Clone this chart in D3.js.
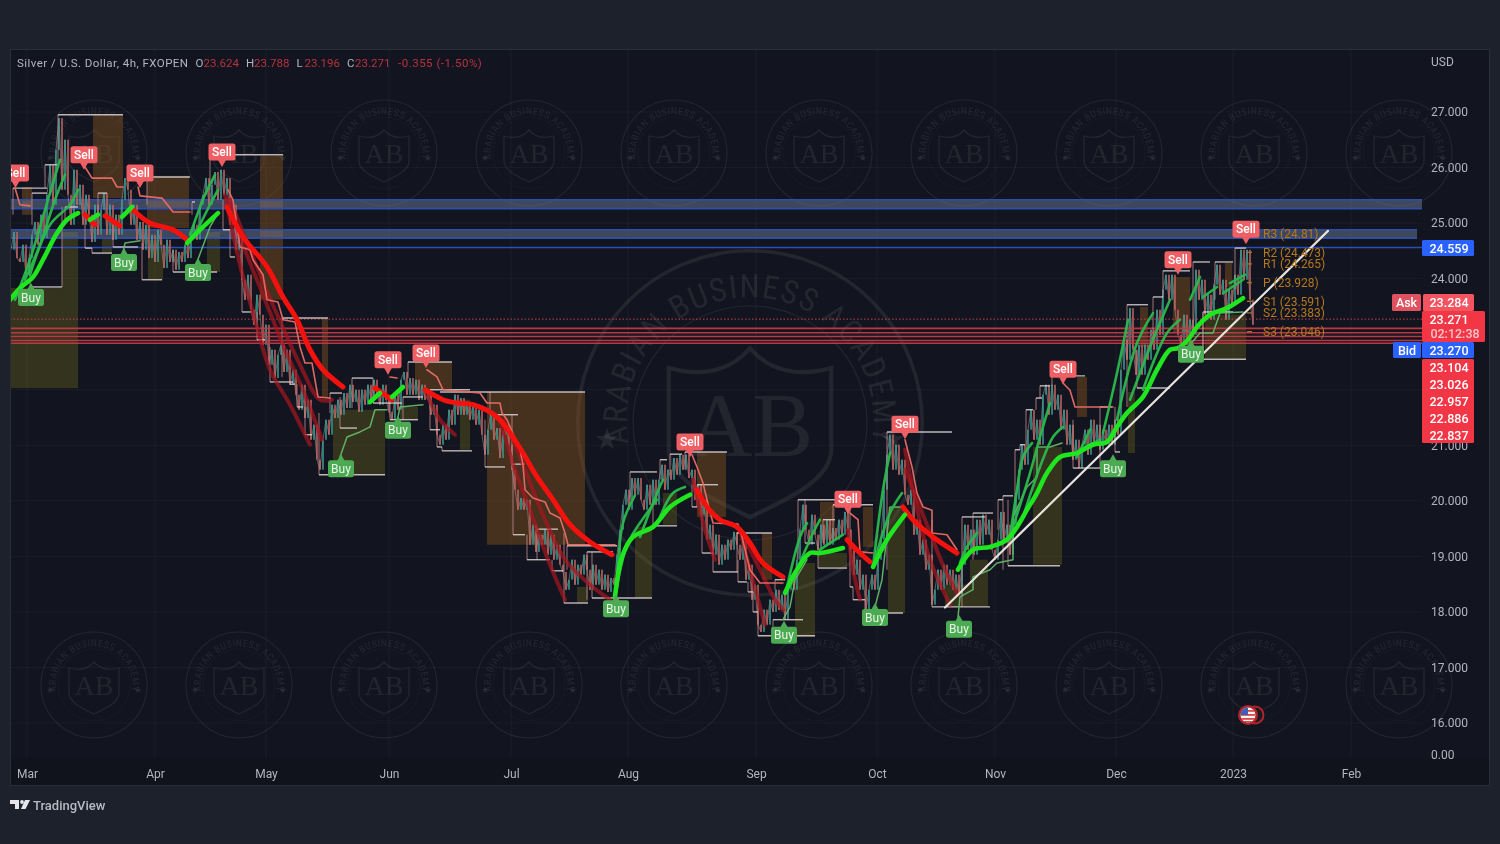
<!DOCTYPE html>
<html><head><meta charset="utf-8">
<script src="https://d3js.org/d3.v7.min.js"></script>
<style>
html,body{margin:0;padding:0;background:#1e222d;overflow:hidden}
svg{display:block;filter:blur(.6px)}
text{font-family:Roboto,"Noto Sans",sans-serif}
</style></head><body>
<svg id="c" width="1500" height="844"></svg>
<script>
// ---- axis content
const priceTicks=[27,26,25,24,23,22,21,20,19,18,17,16];
const priceTickLabels=[27,26,25,24,21,20,19,18,17,16];
const monthLabels=["Mar","Apr","May","Jun","Jul","Aug","Sep","Oct","Nov","Dec","2023","Feb"];
const monthUnits=[17,145,256,379,501,618,746,867,985,1106,1223,1341];
// ---- price closes, one every 3 chart units starting at unit 1
const closes=[24.52,24.84,24.37,24.30,24.61,24.07,24.37,24.79,25.02,24.61,25.15,24.73,25.51,26.05,25.33,26.32,26.89,25.60,26.50,25.51,24.97,25.96,25.33,25.69,24.97,25.51,25.15,24.66,25.33,24.79,25.24,25.54,24.79,25.33,24.70,25.15,24.79,25.42,25.81,25.60,24.97,25.33,24.70,25.02,24.52,24.97,24.37,24.79,24.30,24.88,24.61,24.19,24.70,24.30,24.52,24.16,24.48,24.30,24.61,24.37,24.73,24.97,24.70,25.33,25.51,25.81,25.33,25.69,25.92,25.42,25.96,25.51,25.81,24.97,25.33,24.52,24.79,23.98,23.62,24.07,23.44,23.17,23.71,23.35,22.81,23.17,22.45,22.72,22.21,22.63,22.81,22.32,22.72,22.09,22.36,21.91,21.64,22.09,21.49,21.82,21.10,21.37,20.74,20.56,21.10,21.46,21.19,21.73,21.49,21.82,21.55,21.94,21.67,22.09,21.78,22.00,21.60,22.00,21.73,22.09,21.82,22.18,21.91,21.73,22.09,21.82,21.60,21.46,21.91,21.64,22.18,22.32,21.91,22.21,21.91,22.18,21.82,22.09,21.82,21.91,21.55,21.73,21.19,21.01,21.37,21.10,21.64,21.37,21.91,21.55,21.85,21.55,21.78,21.46,21.73,21.37,21.64,21.19,20.83,21.28,21.60,21.10,21.31,20.77,21.19,21.37,21.01,20.56,20.20,19.84,20.05,19.84,20.02,19.21,19.57,19.08,19.39,19.21,19.48,19.03,19.39,18.94,19.21,18.85,18.72,18.40,18.58,18.94,18.49,18.85,18.67,19.03,18.76,18.40,18.85,18.49,18.76,18.40,18.67,18.36,18.61,18.49,19.03,19.48,19.93,20.20,19.84,20.41,20.11,20.41,20.02,19.84,20.29,19.93,20.38,19.93,20.38,20.65,20.20,20.56,20.38,20.77,20.47,20.83,20.56,20.83,20.41,20.56,20.02,20.29,19.75,20.02,19.30,19.57,19.03,19.39,18.85,19.21,18.94,19.30,19.12,19.44,19.21,18.94,19.30,18.58,18.85,18.22,18.49,17.77,17.64,18.04,17.77,18.22,18.00,18.40,18.04,18.31,17.86,18.40,18.67,18.40,18.94,19.48,19.93,19.48,19.21,19.75,19.39,19.12,19.57,19.21,19.66,19.21,19.51,19.30,19.66,19.39,19.80,19.48,19.12,18.67,18.94,18.40,18.67,18.04,18.40,18.67,18.40,18.94,19.30,20.20,20.83,21.19,20.56,21.01,20.47,20.74,20.11,19.93,20.20,19.39,19.66,19.03,19.30,18.76,19.03,18.13,18.40,18.76,18.40,18.85,18.49,18.76,18.40,18.67,18.31,18.85,19.57,19.12,19.48,19.03,19.66,19.21,19.75,19.39,19.66,19.12,18.94,19.30,19.80,19.30,19.57,19.03,19.57,20.02,20.56,21.01,20.65,21.28,21.64,21.10,21.46,21.01,21.91,22.09,21.55,22.09,21.64,21.91,21.28,21.64,21.01,21.37,20.74,21.10,20.59,21.01,21.28,20.83,21.46,21.01,21.37,20.92,21.28,21.01,21.37,21.01,21.46,21.19,22.36,22.90,22.54,23.47,22.72,22.27,22.81,22.27,22.81,22.54,23.08,22.72,23.44,22.99,23.80,24.07,23.62,24.07,23.44,22.99,22.81,23.35,22.81,23.26,22.99,24.16,23.62,23.98,23.35,23.71,23.26,23.89,24.25,23.71,23.98,23.26,23.80,23.53,24.07,23.71,24.52,23.98,24.52,23.62,23.17];
// ---- order-block boxes: start, end, top price, bottom price
const supplyBoxes=[[12,22,25.65,25.15],[83,113,26.95,25.45],[137,179,25.85,24.91],[250,273,26.21,23.62],[312,318,23.29,21.87],[405,442,22.50,22.00],[477,575,21.96,19.21],[687,716,20.88,19.71],[752,762,19.42,18.58],[810,825,19.98,19.30],[853,863,19.89,19.17],[1067,1077,22.23,21.51],[1130,1138,23.49,22.77],[1163,1180,24.03,23.02],[1215,1222,24.28,23.85]];
const demandBoxes=[[1,68,23.83,22.03],[52,68,24.84,23.83],[92,102,24.73,24.46],[138,153,24.70,23.98],[197,210,24.84,24.12],[323,375,21.64,20.47],[390,408,21.69,21.46],[450,460,21.82,20.92],[567,578,18.45,18.16],[625,642,19.53,18.25],[653,667,20.14,19.57],[785,805,18.88,17.55],[808,837,19.06,18.81],[878,895,19.89,17.98],[960,978,18.94,18.09],[935,960,18.49,18.09],[1023,1052,20.97,18.85],[1118,1125,21.96,20.86],[1195,1236,23.35,22.56]];
// ---- support / resistance steps: start, end, level, price the riser starts from
const levelSteps=[[3,37,25.63,25.15],[35,47,26.05,25.63],[48,113,26.95,26.05],[22,37,25.54,24.97],[20,52,23.85,24.43],[52,52,23.85,25.29],[55,68,25.29,24.97],[75,82,24.55,25.15],[82,102,24.46,24.55],[88,97,25.54,25.15],[103,128,24.57,24.97],[132,152,23.98,24.64],[137,180,25.83,25.33],[163,207,24.12,24.52],[182,185,25.38,25.15],[200,273,26.23,25.60],[213,220,24.88,25.42],[220,225,24.39,24.88],[232,242,23.40,24.16],[247,255,22.90,23.40],[260,283,22.14,22.77],[272,318,23.29,22.23],[280,285,22.10,22.14],[287,293,21.69,22.10],[295,302,21.19,21.69],[309,375,20.47,21.58],[320,332,21.94,21.58],[330,347,21.31,21.87],[342,363,22.21,21.67],[363,392,21.76,22.21],[380,408,21.46,21.91],[398,442,22.50,22.21],[393,413,21.87,21.46],[420,460,22.00,21.73],[420,430,21.28,21.73],[427,432,20.97,21.28],[432,462,20.90,20.97],[430,575,21.96,21.96],[475,495,20.61,21.46],[480,508,21.55,21.96],[503,515,19.39,20.65],[502,515,20.66,21.55],[517,540,18.94,19.39],[527,548,19.49,18.94],[542,553,18.74,18.94],[554,578,18.16,19.42],[557,607,19.19,18.76],[577,603,19.08,18.22],[582,642,18.25,19.08],[620,647,20.52,20.02],[650,657,20.74,20.38],[643,667,19.55,20.02],[660,672,20.84,20.47],[675,717,20.88,20.56],[682,687,19.89,20.29],[687,708,20.29,19.89],[692,703,19.06,19.84],[703,728,18.72,19.06],[727,762,19.42,18.72],[728,737,18.54,18.94],[738,743,18.36,18.54],[743,748,18.00,18.36],[748,805,17.57,18.00],[763,793,17.86,17.57],[765,775,18.58,18.40],[788,837,20.02,18.94],[823,863,19.93,19.30],[795,805,19.24,20.02],[813,825,19.66,19.24],[808,837,18.79,19.24],[840,843,18.45,19.93],[843,855,18.22,18.45],[855,893,17.98,18.22],[877,942,21.24,18.76],[922,980,18.09,19.66],[952,975,19.71,18.09],[963,983,19.78,18.94],[988,993,20.02,19.48],[993,1003,20.09,18.76],[998,1050,18.83,20.02],[1005,1010,20.92,20.02],[1010,1015,21.01,20.92],[1016,1023,21.64,21.01],[1026,1032,21.85,21.64],[1030,1040,22.07,21.85],[1042,1075,22.25,22.07],[1063,1090,20.59,21.46],[1090,1102,21.69,20.59],[1105,1110,20.88,21.69],[1117,1138,23.53,21.69],[1127,1160,22.03,22.72],[1143,1153,23.67,22.89],[1153,1180,24.14,23.67],[1183,1200,24.30,23.09],[1205,1223,24.30,23.62],[1225,1236,24.55,23.81],[1193,1236,22.55,23.40],[1193,1223,23.40,22.55]];
// ---- trailing stops after Sell / Buy signals
const sellStops=[[[5,25.63],[10,25.33],[20,25.31]],[[75,26.01],[82,25.81],[102,25.81],[107,25.65],[113,25.65]],[[128,25.65],[130,25.49],[152,25.45],[160,25.27],[163,25.20],[180,25.20]],[[218,25.60],[223,25.42],[230,24.57],[240,24.52],[243,24.34],[253,24.07],[257,23.62],[268,23.58],[273,23.26],[285,23.22],[290,22.77],[295,22.48],[302,22.48],[308,21.87],[320,21.85]],[[380,22.23],[387,22.21]],[[417,22.36],[427,22.23],[433,22.00],[470,21.94],[477,21.76],[490,21.76],[492,21.58],[497,21.46],[510,20.92],[513,20.65],[515,20.20],[523,20.05],[535,19.98],[540,19.78],[550,19.69],[555,19.42],[558,19.21],[605,19.21]],[[682,20.83],[687,20.61],[693,20.32],[697,20.02],[703,19.60],[728,19.58],[732,19.35],[740,18.76],[750,18.52],[773,18.52]],[[840,19.78],[848,19.66],[850,19.08],[863,19.06]],[[895,21.10],[902,20.61],[907,20.14],[913,19.89],[922,19.83],[922,19.42],[937,19.39],[947,19.12]],[[1053,22.12],[1060,21.99],[1065,21.69],[1103,21.69]]];
const buyStops=[[[330,20.79],[337,21.15],[350,21.24],[360,21.33],[365,21.64],[377,21.64]],[[388,21.51],[390,21.69],[413,21.73]],[[113,24.48],[115,24.64],[130,24.68]],[[187,24.30],[200,24.93],[208,25.18]],[[773,17.86],[780,18.09],[785,18.58],[797,18.94]],[[865,18.09],[872,18.58],[880,19.89],[893,19.89]],[[948,17.91],[950,18.27],[963,18.40],[963,18.63],[980,18.76],[987,18.88],[1003,18.94],[1003,19.71],[1017,20.25],[1027,20.43],[1027,20.97],[1040,20.97],[1052,21.04]],[[1180,22.81],[1190,23.02],[1203,23.02],[1210,23.38],[1233,23.40]]];
// ---- moving averages
const redMa=[[[217,25.29],[233,24.75],[257,24.21],[273,23.67],[287,23.26],[300,22.72],[313,22.36],[333,22.05]],[[365,22.03],[382,21.82]],[[415,22.00],[433,21.82],[447,21.76],[463,21.73],[487,21.51],[500,21.22],[513,20.86],[527,20.43],[543,20.02],[560,19.57],[580,19.26],[602,19.03]],[[687,20.20],[697,19.89],[710,19.66],[727,19.53],[740,19.24],[753,18.88],[773,18.63]],[[837,19.30],[850,19.06],[860,18.90]],[[893,19.89],[903,19.66],[923,19.35],[947,19.06]],[[75,25.15],[85,24.97]],[[95,25.13],[110,24.95]],[[123,25.24],[140,25.00],[163,24.88],[177,24.70]]];
const redFan=[[[215,25.51],[230,24.25],[245,23.26],[260,22.36],[280,21.73],[300,21.01]],[[218,25.42],[235,24.52],[255,23.62],[275,22.72],[295,21.91],[312,21.10]],[[220,25.42],[240,24.52],[265,23.44],[290,22.45],[310,21.82],[322,21.82]],[[415,22.00],[430,21.46],[445,21.19]],[[490,21.46],[505,20.56],[520,19.84],[538,18.94],[555,18.22]],[[495,21.46],[515,20.56],[535,19.66],[555,18.94],[580,18.49],[600,18.22]],[[683,20.38],[695,19.48],[705,18.94]],[[730,19.48],[740,18.76],[755,17.77]],[[730,19.48],[750,18.76],[765,18.22],[773,18.04]],[[838,19.48],[843,18.76],[850,18.22]],[[895,20.92],[905,20.02],[920,18.94],[940,18.13]],[[895,20.56],[915,19.66],[935,18.76],[948,18.31]]];
const greenMa=[[[0,23.62],[10,23.83],[23,24.03],[33,24.34],[47,24.82],[57,25.06],[68,25.18]],[[80,25.06],[88,25.15]],[[112,25.11],[122,25.29]],[[177,24.64],[190,24.88],[208,25.18]],[[360,21.78],[370,21.94]],[[382,21.87],[393,22.05]],[[605,18.27],[612,18.99],[623,19.35],[643,19.53],[660,19.89],[680,20.11]],[[775,18.34],[787,18.76],[800,19.06],[810,19.06],[833,19.15]],[[863,18.81],[877,19.30],[895,19.75]],[[948,18.76],[963,19.12],[980,19.17],[997,19.30],[1007,19.53],[1017,19.84],[1027,20.14],[1037,20.50],[1050,20.79],[1067,20.86],[1083,21.01],[1097,21.06],[1107,21.33],[1117,21.58],[1133,21.87],[1147,22.36],[1160,22.72],[1168,22.75],[1178,22.90],[1187,23.13],[1200,23.35],[1217,23.47],[1233,23.65]]];
const greenFan=[[[5,23.62],[20,24.34],[35,25.24],[50,26.14]],[[15,23.98],[30,24.61],[45,25.42],[55,25.87]],[[20,24.07],[40,24.97],[60,25.33],[68,25.60]],[[180,24.79],[195,25.51],[205,25.87]],[[185,24.79],[200,25.33],[208,25.60]],[[607,18.45],[613,19.60],[625,20.10]],[[607,18.45],[618,19.24],[637,19.78],[647,20.02]],[[630,19.35],[647,20.14],[653,20.38]],[[650,19.71],[663,20.14],[675,20.25]],[[777,18.45],[790,19.35],[797,19.60]],[[787,18.76],[803,19.42],[810,19.66]],[[810,19.12],[833,19.39]],[[863,18.81],[873,20.20],[880,20.86]],[[865,18.94],[880,19.78],[892,20.14]],[[950,18.88],[957,19.17],[967,19.42]],[[1000,19.35],[1007,20.20],[1013,20.79],[1022,21.04]],[[1003,19.53],[1020,20.50],[1030,21.15],[1040,21.76]],[[1013,19.71],[1030,20.61],[1043,21.15],[1053,21.33]],[[1067,20.79],[1080,21.28]],[[1070,20.92],[1090,21.10]],[[1093,21.22],[1107,22.30],[1118,23.26]],[[1107,21.46],[1127,22.84],[1143,23.38]],[[1120,21.82],[1140,22.77],[1160,23.62]],[[1133,22.00],[1157,23.02],[1170,23.26]],[[1180,23.62],[1190,24.03]],[[1193,23.67],[1207,23.85]],[[1213,23.74],[1233,23.98]],[[1220,23.92],[1235,24.07]]];
const trendLine=[[935,18.08],[1318,24.86]];
// ---- signals: chart unit, tip price
const sellSignals=[[5.5,25.63],[74,25.96],[130,25.63],[212,26.01],[378,22.27],[416,22.39],[680,20.79],[838,19.76],[895,21.11],[1053,22.10],[1168,24.07],[1236,24.62]];
const buySignals=[[21,23.92],[114,24.55],[188,24.37],[331,20.84],[388,21.53],[606,18.32],[774,17.84],[865,18.16],[949,17.95],[1103,20.84],[1181,22.90]];
// ---- horizontal levels
const blueBands=[[25.42,25.26,1412],[24.88,24.73,1407]];
const lastBlueLevel=24.559;
const redLevels=[23.104,23.026,22.957,22.886,22.837];
const askPrice=23.284,bidPrice=23.270,lastPrice=23.271,countdown="02:12:38";
const pivots=[["R3",24.81,"24.81"],["R2",24.473,"24.473"],["R1",24.265,"24.265"],["P",23.928,"23.928"],["S1",23.591,"23.591"],["S2",23.383,"23.383"],["S3",23.046,"23.046"]];
// ---- legend
const legendTitle="Silver / U.S. Dollar, 4h, FXOPEN";
const legendOhlc=[["O","23.624"],["H","23.788"],["L","23.196"],["C","23.271"]];
const legendChange="-0.355 (-1.50%)";
// ---- watermark centres
const wmColumns=[94,239,384,529,674,819,964,1109,1254,1399];
const wmRows=[153,685];

const svg=d3.select("#c");
const x=d3.scaleLinear().domain([0,1412]).range([10,1422]);
const y=d3.scaleLinear().domain([27,16]).range([112,723]);
const line=d3.line().x(d=>x(d[0])).y(d=>y(d[1]));
const smooth=d3.line().x(d=>x(d[0])).y(d=>y(d[1])).curve(d3.curveCatmullRom);

// background
svg.append("rect").attr("width",1500).attr("height",844).attr("fill","#1d212c");
svg.append("rect").attr("x",10.5).attr("y",49.5).attr("width",1479).attr("height",736).attr("fill","#12151f").attr("stroke","#2a2e39");
svg.append("rect").attr("x",11).attr("y",758).attr("width",1478).attr("height",27).attr("fill","#10131c");
const defs=svg.append("defs");
defs.append("clipPath").attr("id","plot").append("rect").attr("x",11).attr("y",50).attr("width",1411).attr("height",708);
defs.append("clipPath").attr("id","flag").append("circle").attr("r",7.5);

// watermark
function watermark(g,id){
  const col="#ffffff";
  g.attr("fill","none").attr("stroke",col).attr("stroke-opacity",.075);
  g.append("circle").attr("r",53).attr("stroke-width",1.1);
  g.append("circle").attr("r",36).attr("stroke-width",.35);
  g.append("path").attr("stroke-width",1.3).attr("d","M-25,-17 C-15,-14 -6,-16 0,-23 C6,-16 15,-14 25,-17 L25,8 C25,18 10,24 0,29 C-10,24 -25,18 -25,8 Z");
  g.append("text").attr("text-anchor","middle").attr("y",10).attr("stroke","none").attr("fill",col).attr("fill-opacity",.07)
    .style("font-family","'Liberation Serif',serif").style("font-size","28px").text("AB");
  g.append("path").attr("id",id).attr("d","M-37,8 A38,38 0 1 1 37,8").attr("stroke","none");
  g.append("text").attr("stroke","none").attr("fill",col).attr("fill-opacity",.075)
    .style("font-family","'Liberation Sans Narrow','Roboto Condensed',Roboto,sans-serif").style("font-size","10px").style("letter-spacing",".45px")
    .append("textPath").attr("href","#"+id).attr("startOffset","50%").attr("text-anchor","middle").text("ARABIAN BUSINESS ACADEMY");
  [-44,44].forEach(dx=>g.append("text").attr("x",dx).attr("y",8).attr("text-anchor","middle").attr("stroke","none").attr("fill",col).attr("fill-opacity",.08).style("font-size","9px").text("★"));
}
const wm=svg.append("g");
let wmi=0;
wmRows.forEach(r=>wmColumns.forEach(c=>{watermark(wm.append("g").attr("transform",`translate(${c},${r})`),"wm"+(wmi++));}));
watermark(wm.append("g").attr("transform","translate(750,423) scale(3.25)"),"wmBig");

const plot=svg.append("g").attr("clip-path","url(#plot)");
// grid
plot.append("g").selectAll("line").data(priceTicks).join("line").attr("x1",10).attr("x2",1422).attr("y1",d=>y(d)).attr("y2",d=>y(d)).attr("stroke","#fff").attr("stroke-opacity",.035);
plot.append("g").selectAll("line").data(monthUnits).join("line").attr("x1",d=>x(d)).attr("x2",d=>x(d)).attr("y1",50).attr("y2",758).attr("stroke","#fff").attr("stroke-opacity",.04);

// boxes
const box=(data,fill)=>plot.append("g").selectAll("rect").data(data).join("rect").attr("x",d=>x(d[0])).attr("width",d=>x(d[1])-x(d[0])).attr("y",d=>y(d[2])).attr("height",d=>y(d[3])-y(d[2])).attr("fill",fill);
box(supplyBoxes,"rgba(150,90,30,.4)");
box(demandBoxes,"rgba(120,110,30,.34)");

// blue bands
blueBands.forEach(b=>{
  const g=plot.append("g");
  g.append("rect").attr("x",x(0)).attr("width",x(b[2])-x(0)).attr("y",y(b[0])).attr("height",y(b[1])-y(b[0])).attr("fill","rgba(125,140,175,.42)");
  [b[0],b[1]].forEach(p=>g.append("line").attr("x1",x(0)).attr("x2",x(b[2])).attr("y1",y(p)).attr("y2",y(p)).attr("stroke","#2f4ea8").attr("stroke-width",1.6));
});
plot.append("line").attr("x1",x(0)).attr("x2",x(1412)).attr("y1",y(lastBlueLevel)).attr("y2",y(lastBlueLevel)).attr("stroke","#2a4fb8").attr("stroke-width",1.5);

// candles
const cx=i=>x(1+3*i);
plot.append("path").attr("d",d3.line().x((d,i)=>cx(i)).y(d=>y(d))(closes)).attr("fill","none").attr("stroke","#a89a9a").attr("stroke-opacity",.55).attr("stroke-width",1);
plot.append("g").selectAll("rect").data(closes.slice(1)).join("rect")
  .attr("x",(d,i)=>cx(i+1)-.9).attr("width",1.8)
  .attr("y",(d,i)=>y(Math.max(d,closes[i]))).attr("height",(d,i)=>Math.max(1,Math.abs(y(d)-y(closes[i]))))
  .attr("fill",(d,i)=>d>=closes[i]?"#3a9a92":"#c0645f").attr("fill-opacity",.85);

// red levels over the candles
plot.append("line").attr("x1",x(0)).attr("x2",x(1412)).attr("y1",y(lastPrice)).attr("y2",y(lastPrice)).attr("stroke","#c8404c").attr("stroke-width",1).attr("stroke-dasharray","1.5 2");
plot.append("g").selectAll("line").data(redLevels).join("line").attr("x1",x(0)).attr("x2",x(1412)).attr("y1",d=>y(d)).attr("y2",d=>y(d)).attr("stroke","#c23a46").attr("stroke-width",1.6).attr("stroke-opacity",.95);

// steps: risers dimmer and pinker than the level itself
const stepG=plot.append("g").attr("fill","none");
stepG.selectAll(".rise").data(levelSteps).join("line").attr("class","rise").attr("x1",d=>x(d[0])).attr("x2",d=>x(d[0])).attr("y1",d=>y(d[3])).attr("y2",d=>y(d[2])).attr("stroke","#c88f8f").attr("stroke-opacity",.6).attr("stroke-width",1.3);
stepG.selectAll(".flat").data(levelSteps).join("line").attr("class","flat").attr("x1",d=>x(d[0])).attr("x2",d=>x(d[1])).attr("y1",d=>y(d[2])).attr("y2",d=>y(d[2])).attr("stroke","#dcd4d4").attr("stroke-opacity",.85).attr("stroke-width",1.4);

const lines=(data,gen,col,w,op)=>plot.append("g").selectAll("path").data(data).join("path").attr("d",gen).attr("fill","none").attr("stroke",col).attr("stroke-width",w).attr("stroke-opacity",op).attr("stroke-linecap","round").attr("stroke-linejoin","round");
lines(buyStops,line,"#63b668",1.5,.95);
lines(redFan,smooth,"#a8161f",4,.7);
lines(sellStops,line,"#ea6e66",1.6,.95);
lines(greenFan,smooth,"#2ab84c",2.6,.95);
lines(redMa,smooth,"#f5120e",5,1);
lines(greenMa,smooth,"#1fe61f",4.6,1);
lines([trendLine],line,"#e6e2dc",2.2,1);

// pivot labels
const piv=plot.append("g");
piv.selectAll("line").data(pivots).join("line").attr("x1",x(1237)).attr("x2",x(1242)).attr("y1",d=>y(d[1])).attr("y2",d=>y(d[1])).attr("stroke","#a8741c").attr("stroke-width",1.3);
piv.selectAll("text").data(pivots).join("text").attr("x",1263).attr("y",d=>y(d[1])).attr("dy",".36em").attr("fill","#b5781e").style("font-size","12px").text(d=>`${d[0]} (${d[2]})`);

// signals
const sigSell=plot.append("g").selectAll("g").data(sellSignals).join("g").attr("transform",d=>`translate(${x(d[0])},${y(d[1])})`);
sigSell.append("path").attr("d","M-4,-7L0,0L4,-7Z").attr("fill","#ef5f64");
sigSell.append("rect").attr("x",-13.5).attr("y",-23.5).attr("width",27).attr("height",17).attr("rx",2.5).attr("fill","#ef5f64");
sigSell.append("text").attr("y",-11).attr("text-anchor","middle").attr("fill","#fff").style("font-size","12px").style("font-weight",500).text("Sell");
const sigBuy=plot.append("g").selectAll("g").data(buySignals).join("g").attr("transform",d=>`translate(${x(d[0])},${y(d[1])})`);
sigBuy.append("path").attr("d","M-4,7L0,0L4,7Z").attr("fill","#4cab52");
sigBuy.append("rect").attr("x",-13).attr("y",6).attr("width",26).attr("height",17).attr("rx",2.5).attr("fill","#4cab52");
sigBuy.append("text").attr("y",18.5).attr("text-anchor","middle").attr("fill","#e8f5e8").style("font-size","12px").text("Buy");

// flag
const fg=svg.append("g").attr("transform","translate(1248,715)");
fg.append("circle").attr("cx",7).attr("r",8.5).attr("fill","#1a1a22").attr("stroke","#b0242c").attr("stroke-width",2);
fg.append("circle").attr("r",10).attr("fill","#b0242c");
const ff=fg.append("g").attr("clip-path","url(#flag)");
ff.append("rect").attr("x",-8).attr("y",-8).attr("width",16).attr("height",16).attr("fill","#f2f2f2");
[-5,-1,3,6].forEach(v=>ff.append("rect").attr("x",-8).attr("y",v).attr("width",16).attr("height",1.8).attr("fill","#d84848"));
ff.append("rect").attr("x",-8).attr("y",-8).attr("width",8).attr("height",8).attr("fill","#3a62b8");

// axes
const yAxis=svg.append("g").attr("transform","translate(1431,0)").call(d3.axisRight(y).tickValues(priceTickLabels).tickSize(0).tickPadding(0).tickFormat(d3.format(".3f")));
yAxis.select(".domain").remove();
yAxis.selectAll("text").attr("fill","#b2b5be").style("font-size","12px").style("font-family","Roboto,sans-serif");
svg.append("text").attr("x",1431).attr("y",759).attr("fill","#b2b5be").style("font-size","12px").text("0.00");
svg.append("text").attr("x",1431).attr("y",66).attr("fill","#b2b5be").style("font-size","12px").text("USD");

const xAxis=svg.append("g").attr("transform","translate(0,769)").call(d3.axisBottom(x).tickValues(monthUnits).tickSize(0).tickPadding(0).tickFormat((d,i)=>monthLabels[i]));
xAxis.select(".domain").remove();
xAxis.selectAll("text").attr("fill","#b2b5be").style("font-size","12px").style("font-family","Roboto,sans-serif");

// price tags
const tag=(xp,yp,w,h,fill)=>svg.append("rect").attr("x",xp).attr("y",yp).attr("width",w).attr("height",h).attr("rx",1.5).attr("fill",fill);
const tagText=(xp,yp,t,col,anchor)=>svg.append("text").attr("x",xp).attr("y",yp).attr("dy",".36em").attr("text-anchor",anchor||"middle").attr("fill",col||"#fff").style("font-size","12.5px").style("font-weight",500).text(t);
tag(1422,240,52,16,"#2962ff");tagText(1449,248,lastBlueLevel.toFixed(3));
tag(1392,294,29,17,"#e0525f");tagText(1406.5,302,"Ask");
tag(1423,294,51,17,"#f2555f");tagText(1449,302,askPrice.toFixed(3));
tag(1422,311,63,31,"#f23645");tagText(1449,319,lastPrice.toFixed(3));tagText(1455,333,countdown,"#f7c4c8");
tag(1393,342,28,16,"#2962ff");tagText(1407,350,"Bid");
tag(1422,342,52,16,"#2962ff");tagText(1449,350,bidPrice.toFixed(3));
tag(1422,359,52,84,"#f23645");
redLevels.forEach((v,i)=>tagText(1449,367+17*i,v.toFixed(3)));

// legend
const lg=svg.append("g").style("font-size","11.5px");
lg.append("text").attr("x",17).attr("y",67).attr("fill","#b2b5be").style("letter-spacing",".45px").text(legendTitle);
legendOhlc.forEach((d,i)=>{
  lg.append("text").attr("x",195.5+50.5*i).attr("y",67).attr("fill","#b2b5be").text(d[0]);
  lg.append("text").attr("x",203.5+50.5*i).attr("y",67).attr("fill","#b8323e").text(d[1]);
});
lg.append("text").attr("x",398).attr("y",67).attr("fill","#b8323e").style("letter-spacing",".5px").text(legendChange);

// TradingView mark
const tv=svg.append("g").attr("fill","#e6e7ea");
tv.append("path").attr("d","M10,800H19V809H15V804H10Z");
tv.append("circle").attr("cx",22).attr("cy",802).attr("r",1.9);
tv.append("path").attr("d","M25,800H30L25.5,809H21Z");
svg.append("text").attr("x",33).attr("y",809.5).attr("fill","#b8bbc3").style("font-size","13px").style("font-weight",500).text("TradingView");
</script></body></html>
